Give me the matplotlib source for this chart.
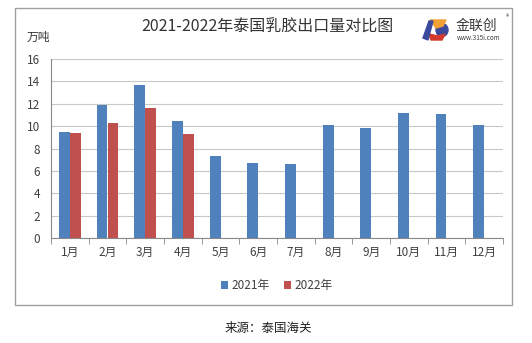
import matplotlib.pyplot as plt
import matplotlib.patches as mpatches
import numpy as np

plt.rcParams['font.family'] = ['Noto Sans CJK SC', 'DejaVu Sans']

months = ['1月', '2月', '3月', '4月', '5月', '6月', '7月', '8月', '9月', '10月', '11月', '12月']
y2021 = [9.5, 11.85, 13.7, 10.5, 7.3, 6.7, 6.6, 10.1, 9.8, 11.15, 11.05, 10.1]
y2022 = [9.35, 10.3, 11.65, 9.3]
series_names = ['2021年', '2022年']
blue = '#4f81bd'
red = '#c0504d'

W, H = 532, 343
fig = plt.figure(figsize=(W / 100, H / 100), dpi=100)

# outer frame
fig.patches.append(mpatches.Rectangle((15 / W, 1 - 305 / H), (512 - 15) / W, (305 - 8) / H,
                                      transform=fig.transFigure, fill=False,
                                      edgecolor='#a0a0a0', linewidth=1))

ax = fig.add_axes([51 / W, 1 - 238 / H, (503 - 51) / W, (238 - 59) / H])
x = np.arange(len(months))
bw = 0.29
ax.bar(x - bw / 2, y2021, bw, color=blue, label=series_names[0], linewidth=0)
ax.bar(x[:len(y2022)] + bw / 2, y2022, bw, color=red, label=series_names[1], linewidth=0)

ax.set_xlim(-0.5, len(months) - 0.5)
ax.set_ylim(0, 16)
ax.set_yticks(range(0, 17, 2))
ax.yaxis.grid(True, color='#c8c8c8', linewidth=0.8)
ax.set_axisbelow(True)
ax.set_xticks(x)
ax.set_xticklabels(months)
ax.set_xticks(np.arange(-0.5, len(months), 1), minor=True)
ax.tick_params(axis='x', which='major', length=0, pad=6, labelsize=8.5, colors='#404040')
ax.tick_params(axis='x', which='minor', length=4, color='#888888')
ax.tick_params(axis='y', length=0, pad=8, labelsize=8.5, colors='#404040')
for s in ['top', 'right']:
    ax.spines[s].set_visible(False)
ax.spines['left'].set_color('#888888')
ax.spines['bottom'].set_color('#888888')

ax.legend(loc='upper center', bbox_to_anchor=(0.5, -0.17), ncol=2, frameon=False,
          fontsize=8.5, handlelength=0.6, handleheight=0.6, handletextpad=0.3,
          columnspacing=1.2, labelcolor='#404040')

fig.text(267 / W, 1 - 27 / H, '2021-2022年泰国乳胶出口量对比图', ha='center', va='center',
         fontsize=11.5, color='#333333')
fig.text(27 / W, 1 - 37 / H, '万吨', ha='left', va='center', fontsize=8.5, color='#333333')
fig.text(268 / W, 1 - 328 / H, '来源：泰国海关', ha='center', va='center', fontsize=9, color='#222222')

# logo approximation (pixel coordinates, y downwards)
lax = fig.add_axes([422 / W, 1 - 41 / H, 28 / W, 22 / H])
lax.set_xlim(422, 450)
lax.set_ylim(41, 19)
lax.axis('off')
lax.add_patch(mpatches.Ellipse((442, 30), 12, 13, color='#3b4a9c'))
lax.add_patch(mpatches.Polygon([[430, 20], [446, 20], [443, 26], [436, 28]], color='#f0a035'))
lax.add_patch(mpatches.Polygon([[429, 34], [438, 36], [445, 34], [442, 40], [431, 40]], color='#d33a2c'))
lax.add_patch(mpatches.Polygon([[423, 38], [429, 21], [433, 21], [428, 40]], color='#3b4a9c'))
fig.text(456 / W, 1 - 26 / H, '金联创', ha='left', va='center', fontsize=10, color='#3a3a3a')
fig.text(506 / W, 1 - 17 / H, '®', ha='left', va='center', fontsize=5, color='#3a3a3a')
fig.text(457 / W, 1 - 38 / H, 'www.315i.com', ha='left', va='center', fontsize=4.5, color='#3a3a3a')

fig.savefig('out.png', dpi=100)
